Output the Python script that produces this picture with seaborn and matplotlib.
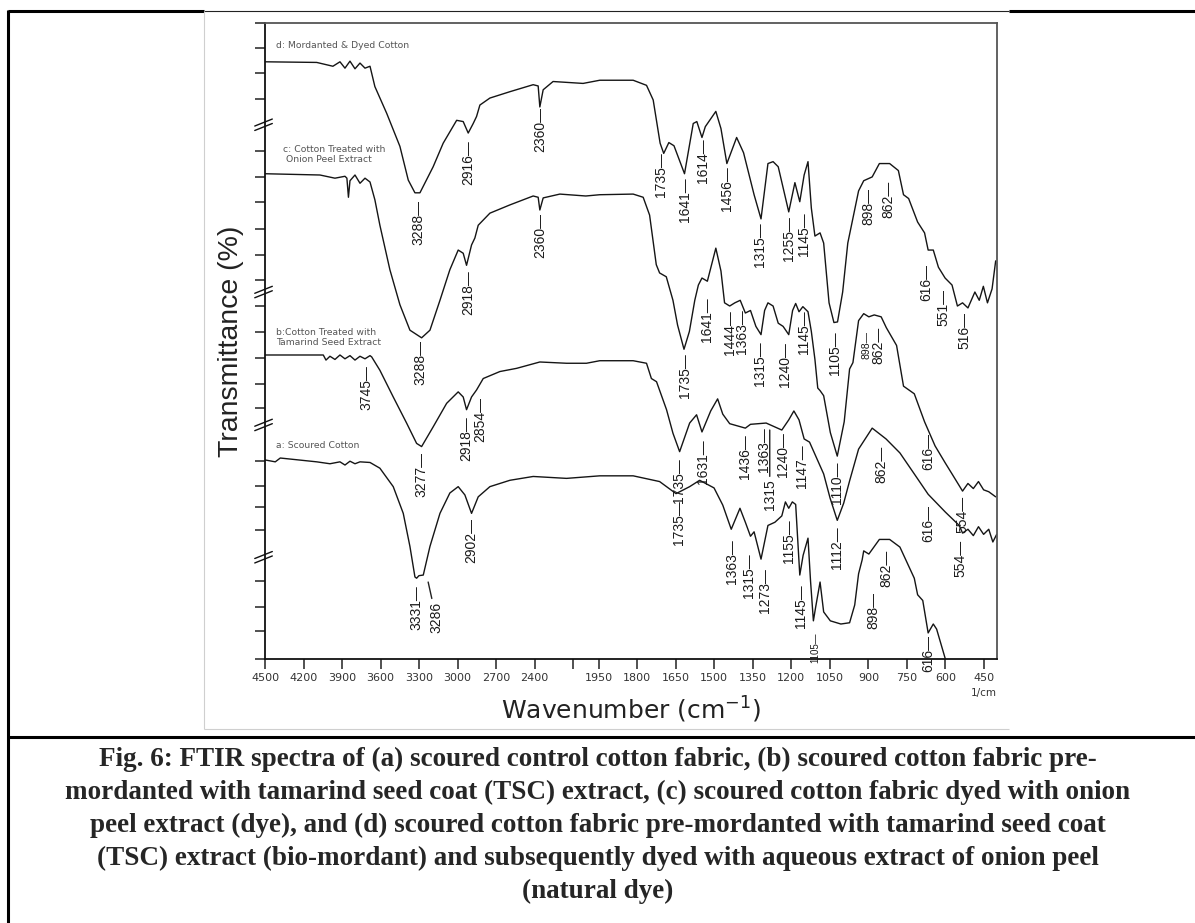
import numpy as np
import pandas as pd
import seaborn as sns
import matplotlib.pyplot as plt
from matplotlib.lines import Line2D
from matplotlib import font_manager as fm

# wavenumber (cm-1) and stacked transmittance of each spectrum
d_wn = [4500, 4097, 3971, 3916, 3877, 3838, 3799, 3760, 3721, 3682, 3644, 3552, 3449, 3384, 3332, 3293, 3190, 3112,
        3007, 2956, 2917, 2878, 2852, 2826, 2748, 2592, 2411, 2372, 2359, 2333, 2256, 2022, 1946, 1816, 1764, 1738,
        1711, 1697, 1677, 1657, 1616, 1582, 1568, 1548, 1535, 1494, 1474, 1451, 1413, 1386, 1345, 1318, 1291, 1271,
        1251, 1210, 1186, 1167, 1150, 1135, 1122, 1108, 1088, 1074, 1053, 1034, 1020, 1000, 980, 938, 918, 885, 857,
        817, 783, 763, 743, 708, 681, 667, 647, 627, 601, 574, 553, 533, 512, 485, 468, 452, 436, 418, 404]
d_tr = [93.9, 93.8, 93.2, 93.9, 92.9, 94.0, 92.8, 93.7, 92.9, 93.2, 90.0, 85.8, 80.6, 75.3, 73.3, 73.3, 77.4, 81.1,
        84.7, 84.5, 82.7, 84.2, 85.3, 87.1, 88.2, 89.2, 90.3, 90.1, 86.8, 89.5, 90.8, 90.5, 91.0, 91.0, 90.2, 87.9,
        81.1, 79.5, 81.2, 80.7, 76.3, 84.2, 84.5, 82.0, 83.7, 86.1, 83.4, 77.9, 82.0, 79.6, 73.0, 69.2, 77.9, 78.2,
        77.4, 70.3, 74.9, 71.9, 76.1, 78.2, 70.9, 66.5, 67.0, 65.4, 56.0, 52.9, 53.0, 57.7, 65.4, 73.6, 75.2, 75.8,
        77.9, 77.9, 76.8, 73.0, 72.4, 68.7, 67.0, 64.3, 64.3, 61.6, 59.9, 58.8, 55.5, 56.0, 55.2, 57.7, 56.4, 58.6,
        56.0, 58.2, 62.6]

c_wn = [4500, 4072, 3955, 3877, 3862, 3850, 3838, 3799, 3760, 3721, 3682, 3644, 3605, 3527, 3449, 3371, 3280, 3215,
        3137, 3060, 2995, 2956, 2930, 2891, 2865, 2839, 2748, 2592, 2411, 2372, 2359, 2333, 2203, 2001, 1946, 1816,
        1777, 1752, 1726, 1713, 1687, 1661, 1643, 1618, 1597, 1576, 1562, 1548, 1527, 1494, 1474, 1460, 1440, 1420,
        1399, 1379, 1359, 1338, 1318, 1304, 1291, 1271, 1251, 1232, 1210, 1195, 1183, 1170, 1155, 1135, 1122, 1108,
        1097, 1088, 1074, 1048, 1021, 994, 973, 960, 938, 918, 898, 877, 850, 830, 790, 763, 721, 681, 640, 600, 574,
        533, 512, 491, 471, 451, 431, 404]
c_tr = [76.3, 76.1, 75.6, 75.9, 75.6, 72.6, 75.2, 76.1, 74.8, 75.6, 75.0, 72.2, 68.2, 61.2, 55.7, 51.7, 50.5, 51.7,
        56.4, 61.2, 64.3, 63.8, 61.9, 65.1, 66.2, 68.2, 70.1, 71.4, 72.8, 72.6, 70.6, 72.5, 73.1, 72.8, 73.0, 73.1,
        72.6, 69.8, 62.0, 60.7, 60.1, 56.4, 52.5, 48.7, 51.5, 56.4, 58.8, 59.9, 59.4, 64.6, 61.0, 56.0, 55.5, 56.0,
        56.4, 54.4, 54.8, 52.3, 51.0, 54.8, 56.0, 55.5, 52.8, 52.3, 51.0, 54.8, 55.9, 54.6, 55.4, 54.6, 51.5, 47.1,
        42.6, 42.2, 41.4, 35.6, 31.9, 37.3, 45.6, 46.6, 53.2, 54.3, 53.8, 54.1, 53.8, 52.1, 49.3, 42.9, 41.7, 37.3,
        33.5, 30.8, 29.1, 26.4, 27.6, 26.8, 27.9, 26.6, 26.3, 25.5]

b_wn = [4500, 4046, 4025, 3994, 3955, 3916, 3877, 3838, 3799, 3760, 3721, 3682, 3669, 3605, 3501, 3397, 3319, 3280,
        3190, 3085, 2995, 2956, 2930, 2891, 2852, 2800, 2670, 2540, 2359, 2151, 1998, 1946, 1816, 1764, 1745, 1725,
        1686, 1661, 1635, 1596, 1569, 1548, 1514, 1487, 1467, 1440, 1379, 1359, 1298, 1237, 1210, 1190, 1170, 1150,
        1129, 1074, 1049, 1021, 996, 973, 938, 885, 831, 777, 721, 667, 600, 546, 533, 512, 491, 471, 451, 431, 415,
        400]
b_tr = [47.8, 47.8, 47.0, 47.6, 47.1, 47.8, 47.2, 47.7, 47.0, 47.6, 47.2, 47.7, 47.5, 45.4, 41.2, 37.1, 33.9, 33.4,
        36.5, 40.2, 42.0, 41.2, 39.2, 41.2, 42.3, 44.1, 45.2, 45.7, 46.7, 46.5, 46.5, 46.9, 46.9, 46.5, 44.1, 43.6,
        39.2, 35.5, 32.6, 37.1, 38.4, 35.7, 39.0, 40.9, 38.5, 37.0, 36.3, 36.9, 37.1, 36.0, 37.6, 39.0, 37.6, 34.6,
        34.1, 29.1, 25.3, 21.8, 24.5, 28.0, 33.0, 36.3, 34.6, 32.4, 29.1, 25.9, 23.1, 21.0, 19.8, 20.4, 19.4, 20.8,
        19.6, 20.4, 18.4, 19.6]

a_wn = [4500, 4420, 4381, 4097, 3994, 3916, 3877, 3838, 3799, 3760, 3682, 3605, 3501, 3423, 3371, 3332, 3319, 3301,
        3267, 3215, 3137, 3060, 2995, 2943, 2891, 2839, 2748, 2592, 2411, 2151, 1946, 1816, 1713, 1649, 1596, 1557,
        1501, 1467, 1434, 1400, 1379, 1359, 1345, 1318, 1291, 1264, 1237, 1223, 1210, 1196, 1183, 1167, 1154, 1135,
        1125, 1114, 1105, 1088, 1074, 1048, 1007, 973, 953, 938, 924, 918, 898, 857, 817, 777, 721, 708, 688, 667,
        647, 634, 600]
a_tr = [31.3, 31.0, 31.6, 31.0, 30.7, 31.0, 30.5, 31.1, 30.7, 31.0, 30.9, 30.0, 27.1, 22.9, 17.7, 12.9, 12.7, 13.1,
        13.2, 17.7, 22.9, 26.1, 27.1, 25.8, 22.9, 25.5, 27.1, 28.1, 28.7, 28.4, 28.8, 28.8, 27.9, 26.0, 27.1, 28.1,
        26.9, 24.2, 20.4, 23.7, 21.5, 19.3, 20.0, 15.7, 21.0, 21.5, 22.5, 24.7, 23.7, 24.7, 24.3, 13.2, 16.3, 19.0,
        12.2, 6.0, 8.2, 12.1, 7.4, 6.0, 5.5, 5.7, 8.5, 13.4, 15.6, 17.0, 16.5, 18.8, 18.8, 17.6, 12.7, 10.1, 9.2, 4.1,
        5.5, 4.7, 0.0]

# peak labels: text, position on the axis, top of the label
d_lab = ['3288', '2916', '2360', '1735', '1641', '1614', '1456', '1315', '1255', '1145', '1105', '898', '862', '616', '551', '516']
d_lab_wn = [3306, 2917, 2359, 1706, 1615, 1545, 1451, 1321, 1210, 1150, 1028, 901, 823, 675, 608, 527]
d_lab_top = [72.2, 81.6, 86.8, 79.6, 75.8, 81.8, 77.4, 68.7, 69.7, 70.3, 51.5, 74.1, 75.2, 62.1, 58.2, 54.5]

c_lab = ['3288', '2918', '2360', '1735', '1641', '1444', '1363', '1315', '1240', '1145', '1110', '862', '616', '554']
c_lab_wn = [3293, 2917, 2359, 1616, 1528, 1440, 1393, 1321, 1224, 1150, 1021, 859, 667, 533]
c_lab_top = [50.2, 61.2, 70.1, 48.0, 56.9, 54.8, 55.0, 49.9, 49.9, 54.8, 31.1, 52.3, 35.6, 25.7]

b_lab = ['3745', '3277', '2918', '2854', '1735', '1631', '1436', '1363', '1240', '1147', '1112', '862', '616', '554']
b_lab_wn = [3708, 3280, 2930, 2826, 1637, 1545, 1379, 1307, 1231, 1159, 1021, 851, 667, 540]
b_lab_top = [46.2, 32.5, 38.1, 41.2, 31.5, 34.6, 35.4, 36.5, 35.6, 33.8, 20.8, 33.5, 24.2, 18.8]

a_lab = ['3331', '2902', '1735', '1363', '1315', '1273', '1155', '1145', '898', '862', '616']
a_lab_wn = [3319, 2891, 1638, 1432, 1366, 1304, 1210, 1163, 879, 831, 667]
a_lab_top = [11.6, 22.2, 25.0, 18.8, 16.6, 14.3, 22.0, 11.7, 10.5, 17.1, 3.7]

x_ticks = [4500, 4200, 3900, 3600, 3300, 3000, 2700, 2400, 2100, 1950, 1800, 1650, 1500, 1350, 1200, 1050, 900, 750, 600, 450]
x_ticklabels = ['4500', '4200', '3900', '3600', '3300', '3000', '2700', '2400', '', '1950', '1800', '1650', '1500',
                '1350', '1200', '1050', '900', '750', '600', '450']
y_ticks = [0, 4.4, 8.1, 12.2, 20.3, 23.9, 27.2, 31.2, 39.5, 43.2, 47.3, 51.4, 55.5, 59.6, 63.6, 67.6, 71.8, 75.8,
           79.8, 88.1, 92.1, 96.1, 100]
y_breaks = [16.0, 36.8, 57.7, 84.0]

caption = ["Fig. 6: FTIR spectra of (a) scoured control cotton fabric, (b) scoured cotton fabric pre-",
           "mordanted with tamarind seed coat (TSC) extract, (c) scoured cotton fabric dyed with onion",
           "peel extract (dye), and (d) scoured cotton fabric pre-mordanted with tamarind seed coat",
           "(TSC) extract (bio-mordant) and subsequently dyed with aqueous extract of onion peel",
           "(natural dye)"]

sns.set_style("ticks")
plt.rcParams['font.family'] = ['DejaVu Sans']
plt.rcParams['mathtext.default'] = 'regular'

try:
    fm.findfont(fm.FontProperties(family='Liberation Sans Narrow'), fallback_to_default=False)
    narrow = 'Liberation Sans Narrow'
except ValueError:
    narrow = 'Liberation Sans'

W, H = 1195, 923
fig = plt.figure(figsize=(W / 100, H / 100), dpi=100)
ax = fig.add_axes([265 / W, 1 - 659 / H, 731.7 / W, 636 / H])


# the wavenumber axis doubles its scale below 2000 cm-1
def fwd(w):
    w = np.asarray(w, dtype=float)
    return np.where(w >= 2000, (w - 4500) / 300, -25 / 3 + (w - 2000) / 150)


def inv(v):
    v = np.asarray(v, dtype=float)
    return np.where(v >= -25 / 3, 4500 + 300 * v, 2000 + (v + 25 / 3) * 150)


ax.set_xscale('function', functions=(fwd, inv))

spectra = [(d_wn, d_tr), (c_wn, c_tr), (b_wn, b_tr), (a_wn, a_tr)]
for wn, tr in spectra:
    df = pd.DataFrame({'wn': wn, 'tr': tr})
    sns.lineplot(data=df, x='wn', y='tr', sort=False, estimator=None, color='#151515', lw=1.0, ax=ax)

ax.set_xlim(4500, 400)
ax.set_ylim(0, 100)
ax.set_xticks(x_ticks)
ax.set_xticklabels(x_ticklabels, fontsize=8, color='#333333')
ax.set_yticks(y_ticks)
ax.set_yticklabels([])
ax.set_xlabel('')
ax.set_ylabel('')
ax.tick_params(axis='x', direction='out', length=7.5, width=1.1, pad=2.5, color='#222222')
ax.tick_params(axis='y', direction='out', length=7, width=1.1, color='#222222')
ax.minorticks_off()
for side in ['left', 'bottom']:
    ax.spines[side].set_color('#111111')
    ax.spines[side].set_linewidth(1.3)
for side in ['top', 'right']:
    ax.spines[side].set_color('#555555')
    ax.spines[side].set_linewidth(1.3)

# axis break marks
ytr = ax.get_yaxis_transform()
for b in y_breaks:
    for off in (-0.35, 0.35):
        ax.plot([-0.014, 0.010], [b - 0.55 + off, b + 0.55 + off], transform=ytr, color='#111111', lw=1.0,
                clip_on=False)

# peak labels
lab_kw = dict(rotation=90, ha='center', va='top', family=narrow, color='#1a1a1a')
for labs, wns, tops in [(d_lab, d_lab_wn, d_lab_top), (c_lab, c_lab_wn, c_lab_top),
                        (b_lab, b_lab_wn, b_lab_top), (a_lab, a_lab_wn, a_lab_top)]:
    for t, w, y in zip(labs, wns, tops):
        ax.text(w, y, t + '\u2014', fontsize=10, **lab_kw)

ax.text(908, 51.5, '898\u2014', fontsize=7.5, **lab_kw)
ax.text(1108, 4.1, '1105\u2014', fontsize=7, **lab_kw)
line_kw = dict(arrowstyle='-', lw=1.0, color='#222222', shrinkA=0, shrinkB=0)
ax.annotate('1315', xy=(1284, 36.0), xytext=(1284, 28.2), fontsize=10, arrowprops=line_kw, **lab_kw)
ax.annotate('3286', xy=(3229, 12.1), xytext=(3168, 9.0), fontsize=10, arrowprops=line_kw, **lab_kw)

# sample names
name_kw = dict(fontsize=6.7, color='#555555', ha='left')
ax.text(4414, 96.4, 'd: Mordanted & Dyed Cotton', va='center', **name_kw)
ax.text(4362, 80.8, 'c: Cotton Treated with\n Onion Peel Extract', va='top', linespacing=1.1, **name_kw)
ax.text(4414, 52.0, 'b:Cotton Treated with\nTamarind Seed Extract', va='top', linespacing=1.1, **name_kw)
ax.text(4414, 33.5, 'a: Scoured Cotton', va='center', **name_kw)

ax.text(450, -0.045, '1/cm', transform=ax.get_xaxis_transform(), ha='center', va='top', fontsize=7.5, color='#333333')

ax.set_xlabel('Wavenumber (cm$^{-1}$)', fontsize=18, color='#222222', va='top')
ax.xaxis.set_label_coords(0.5, -0.057)
ax.set_ylabel('Transmittance (%)', fontsize=20.5, family=narrow, color='#222222')
ax.yaxis.set_label_coords(-0.029, 0.5)


# table borders round the figure and its caption
def fig_line(x0, y0, x1, y1, lw, color='black'):
    fig.add_artist(Line2D([x0 / W, x1 / W], [1 - y0 / H, 1 - y1 / H], lw=lw, color=color,
                          transform=fig.transFigure, solid_capstyle='butt'))


fig_line(8, 11, 204, 11, 2.2)
fig_line(1009, 11, 1195, 11, 2.2)
fig_line(204, 11, 1009, 11, 0.8, '#222222')
fig_line(8, 10, 8, 923, 2.2)
fig_line(204, 11, 204, 729, 0.8, '#cfcfcf')
fig_line(204, 729, 1009, 729, 0.8, '#cfcfcf')
fig_line(8, 737, 1195, 737, 2.2)

for i, line in enumerate(caption):
    fig.text(598 / W, 1 - (759 + 33 * i) / H, line, ha='center', va='center', fontsize=19.5,
             family='Liberation Serif', fontweight='bold')

fig.savefig('out.png', dpi=100)
